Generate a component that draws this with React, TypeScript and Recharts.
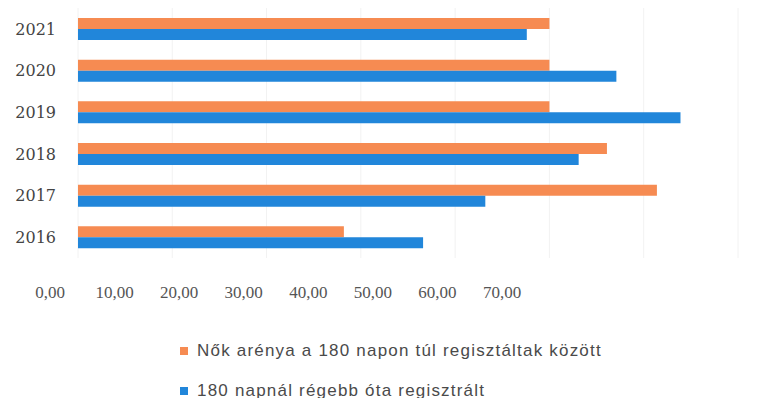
import React from "react";
import { BarChart, Bar, XAxis, YAxis, CartesianGrid, Legend } from "recharts";

const years = ["2016", "2017", "2018", "2019", "2020", "2021"];
const womenShare = [28.2, 61.4, 56.1, 50.0, 50.0, 50.0];
const registered = [36.6, 43.2, 53.1, 63.9, 57.1, 47.6];
const xTicks = [0, 10, 20, 30, 40, 50, 60, 70];
const seriesNames = [
  "Nők arénya a 180 napon túl regisztáltak között",
  "180 napnál régebb óta regisztrált",
];
const colors = ["#F68B52", "#2186DA"];

const data = years.map((y, i) => ({ year: y, a: womenShare[i], b: registered[i] }));
const fmt = (v: number) => v.toFixed(2).replace(".", ",");

const LegendContent = (props: any) => {
  const payload = [...(props.payload || [])].sort(
    (p: any, q: any) => seriesNames.indexOf(p.value) - seriesNames.indexOf(q.value)
  );
  return (
    <div>
      {payload.map((p: any, i: number) => (
        <div
          key={i}
          style={{
            display: "flex",
            alignItems: "center",
            height: 40,
            fontFamily: "Liberation Sans, Arial, sans-serif",
            fontSize: 17,
            letterSpacing: 1.2,
            color: "#4a4a4a",
            whiteSpace: "nowrap",
          }}
        >
          <span style={{ display: "inline-block", width: 8, height: 8, background: p.color, marginRight: 9 }} />
          <span>{p.value}</span>
        </div>
      ))}
    </div>
  );
};

export default function App() {
  return (
    <div style={{ position: "absolute", left: 0, top: 0, width: 765, height: 398, background: "#fff", overflow: "hidden" }}>
      <BarChart
        width={765}
        height={398}
        data={data}
        layout="vertical"
        margin={{ top: 8, right: 27, bottom: 140, left: 8 }}
        barSize={11}
        barGap={0}
      >
        <CartesianGrid horizontal={false} vertical={true} stroke="#f2f2f2" />
        <XAxis type="number" domain={[0, 70]} ticks={xTicks} hide />
        <YAxis
          type="category"
          dataKey="year"
          reversed
          width={70}
          axisLine={false}
          tickLine={false}
          tickSize={0}
          tickMargin={22}
          tick={{ fontFamily: "DejaVu Serif, serif", fontSize: 16, fill: "#444" }}
        />
        <Legend
          layout="horizontal"
          verticalAlign="middle"
          align="center"
          wrapperStyle={{ top: 331, left: 180, width: 560, height: 80 }}
          content={<LegendContent />}
        />
        <Bar dataKey="a" name={seriesNames[0]} fill={colors[0]} isAnimationActive={false} />
        <Bar dataKey="b" name={seriesNames[1]} fill={colors[1]} isAnimationActive={false} />
      </BarChart>
      <div style={{ position: "absolute", left: 0, top: 262, width: 765, height: 50 }}>
        <BarChart width={765} height={50} data={data} layout="vertical" margin={{ top: 0, right: 263, bottom: 0, left: 50 }}>
          <XAxis
            type="number"
            domain={[0, 70]}
            allowDataOverflow
            ticks={xTicks}
            tickFormatter={fmt}
            axisLine={false}
            tickLine={false}
            tickSize={0}
            tickMargin={14}
            height={40}
            tick={{ fontFamily: "Liberation Serif, serif", fontSize: 17, fill: "#555" }}
          />
          <YAxis type="category" dataKey="year" hide />
          <Bar dataKey="a" fill="none" fillOpacity={0} isAnimationActive={false} />
        </BarChart>
      </div>
    </div>
  );
}
